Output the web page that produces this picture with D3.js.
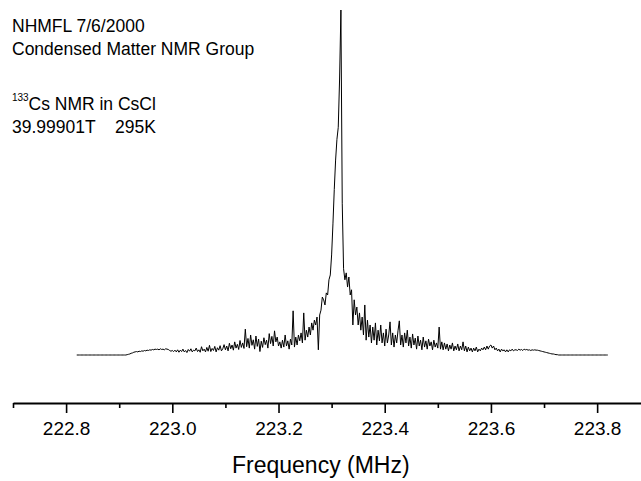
<!DOCTYPE html>
<html>

<head>
  <meta charset="UTF-8">
  <style>
    body { margin: 0; background: #fff; }
    svg { display: block; font-family: "Liberation Sans", Arial, sans-serif; }
  </style>
</head>

<body>
  <svg></svg>
  <script src="https://d3js.org/d3.v7.min.js"></script>

  <script>

    let width = 641, height = 481;

    // spectrum sampled every 0.0025 MHz starting at 222.82 MHz (intensity, arbitrary units)
    let freqStart = 222.82, freqStep = 0.0025;
    let intensity = [
      0, 0, 0, 0, 0, 0, 0, 0, 0, 0, 0, 0, 0, 0, 0, 0, 0, 0, 0, 0,
      0, 0, 0, 0, 0, 0, 0, 0, 0, 0, 0, 0, 0, 0, 0, 0, 0, 0, 1, 2,
      3, 5, 6, 8, 9, 10, 9, 11, 10, 12, 11, 13, 12, 14, 13, 15, 14, 16, 15, 17,
      16, 17, 15, 18, 16, 17, 15, 18, 17, 16, 13, 11, 13, 10, 14, 9, 15, 8, 14, 10,
      17, 9, 13, 7, 16, 11, 18, 9, 14, 12, 20, 10, 15, 8, 24, 12, 17, 9, 22, 11,
      28, 10, 19, 13, 25, 9, 21, 14, 27, 12, 18, 30, 15, 26, 12, 34, 18, 29, 14, 38,
      20, 31, 16, 42, 22, 35, 19, 75, 24, 48, 20, 58, 28, 44, 17, 55, 25, 46, 10, 40,
      22, 50, 30, 43, 20, 62, 33, 54, 26, 70, 38, 52, 26, 38, 20, 43, 23, 58, 26, 41,
      17, 46, 29, 128, 23, 52, 29, 58, 41, 64, 35, 122, 43, 72, 52, 81, 58, 93, 72, 101,
      87, 110, 15, 116, 130, 168, 160, 145, 180, 174, 218, 232, 290, 380, 480, 565, 625, 660, 800, 1000,
      440, 250, 218, 238, 197, 226, 174, 189, 87, 160, 116, 139, 87, 122, 72, 110, 58, 145, 43, 101,
      52, 87, 35, 81, 43, 93, 29, 72, 41, 87, 35, 64, 26, 75, 35, 58, 96, 29, 64, 23,
      58, 35, 70, 99, 29, 58, 23, 64, 35, 72, 26, 52, 20, 61, 29, 49, 17, 55, 26, 43,
      15, 52, 23, 41, 17, 46, 26, 38, 15, 43, 23, 35, 20, 81, 17, 38, 15, 35, 17, 32,
      12, 29, 17, 35, 12, 26, 15, 32, 12, 26, 15, 38, 12, 26, 9, 23, 12, 20, 9, 20,
      12, 23, 9, 17, 12, 20, 15, 23, 15, 26, 17, 26, 29, 20, 26, 15, 20, 12, 17, 9,
      17, 12, 15, 9, 15, 9, 15, 12, 17, 12, 15, 15, 13, 17, 14, 16, 13, 17, 15, 16,
      14, 15, 13, 15, 14, 15, 14, 14, 13, 12, 11, 10, 9, 8, 7, 6, 5, 4, 3, 3,
      2, 1, 1, 0, 0, 0, 0, 0, 0, 0, 0, 0, 0, 0, 0, 0, 0, 0, 0, 0,
      0, 0, 0, 0, 0, 0, 0, 0, 0, 0, 0, 0, 0, 0, 0, 0, 0, 0, 0, 0,
      0
    ];

    let majorTicks = [222.8, 223.0, 223.2, 223.4, 223.6, 223.8];
    let minorTicks = [222.7, 222.9, 223.1, 223.3, 223.5, 223.7];

    let infoLines = ["NHMFL 7/6/2000", "Condensed Matter NMR Group"];
    let isotope = "133", sampleText = "Cs NMR in CsCl";
    let fieldText = "39.99901T", tempText = "295K";
    let xTitle = "Frequency (MHz)";

    let spectrum = intensity.map((v, i) => ({ f: freqStart + i * freqStep, v: v }));

    let svg = d3.select("svg")
      .attr("width", width)
      .attr("height", height);

    let x = d3.scaleLinear().domain([222.7, 223.8826]).range([13, 641]);
    let y = d3.scaleLinear().domain([0, d3.max(intensity)]).range([355, 10]);

    // spectrum line
    let line = d3.line().x(d => x(d.f)).y(d => y(d.v));
    svg.append("path")
      .datum(spectrum)
      .attr("d", line)
      .attr("fill", "none")
      .attr("stroke", "#000")
      .attr("stroke-width", 1)
      .attr("stroke-linejoin", "round");

    // bottom axis: minor ticks first, then labelled major ticks
    let axisY = 403;
    svg.append("g")
      .attr("transform", "translate(0," + axisY + ")")
      .call(d3.axisBottom(x).tickValues(minorTicks).tickSize(5).tickSizeOuter(0).tickFormat(""))
      .call(g => g.select(".domain").remove())
      .call(g => g.selectAll("line").attr("stroke-width", 1.6));

    let xAxis = svg.append("g")
      .attr("transform", "translate(0," + axisY + ")")
      .call(d3.axisBottom(x).tickValues(majorTicks).tickSize(10).tickSizeOuter(0).tickFormat(d3.format(".1f")));

    xAxis.select(".domain").attr("stroke-width", 2);
    xAxis.selectAll("line").attr("stroke-width", 1.6);
    xAxis.selectAll("text")
      .attr("y", 32)
      .attr("dy", null)
      .attr("fill", "#000")
      .style("font-family", "'Liberation Sans', Arial, sans-serif")
      .style("font-size", "19px");

    // axis title
    svg.append("text")
      .attr("x", 232)
      .attr("y", 473)
      .style("font-size", "23px")
      .text(xTitle);

    // annotation text
    svg.selectAll(".info")
      .data(infoLines)
      .enter()
      .append("text")
      .attr("class", "info")
      .attr("x", 12)
      .attr("y", (d, i) => 32 + i * 23)
      .style("font-size", "17.5px")
      .text(d => d);

    svg.append("text")
      .attr("x", 12)
      .attr("y", 101)
      .style("font-size", "10px")
      .text(isotope);

    svg.append("text")
      .attr("x", 28.5)
      .attr("y", 110)
      .style("font-size", "17.5px")
      .text(sampleText);

    svg.append("text")
      .attr("x", 12)
      .attr("y", 133)
      .style("font-size", "17.5px")
      .text(fieldText);

    svg.append("text")
      .attr("x", 115)
      .attr("y", 133)
      .style("font-size", "17.5px")
      .text(tempText);

  </script>

</body>

</html>
